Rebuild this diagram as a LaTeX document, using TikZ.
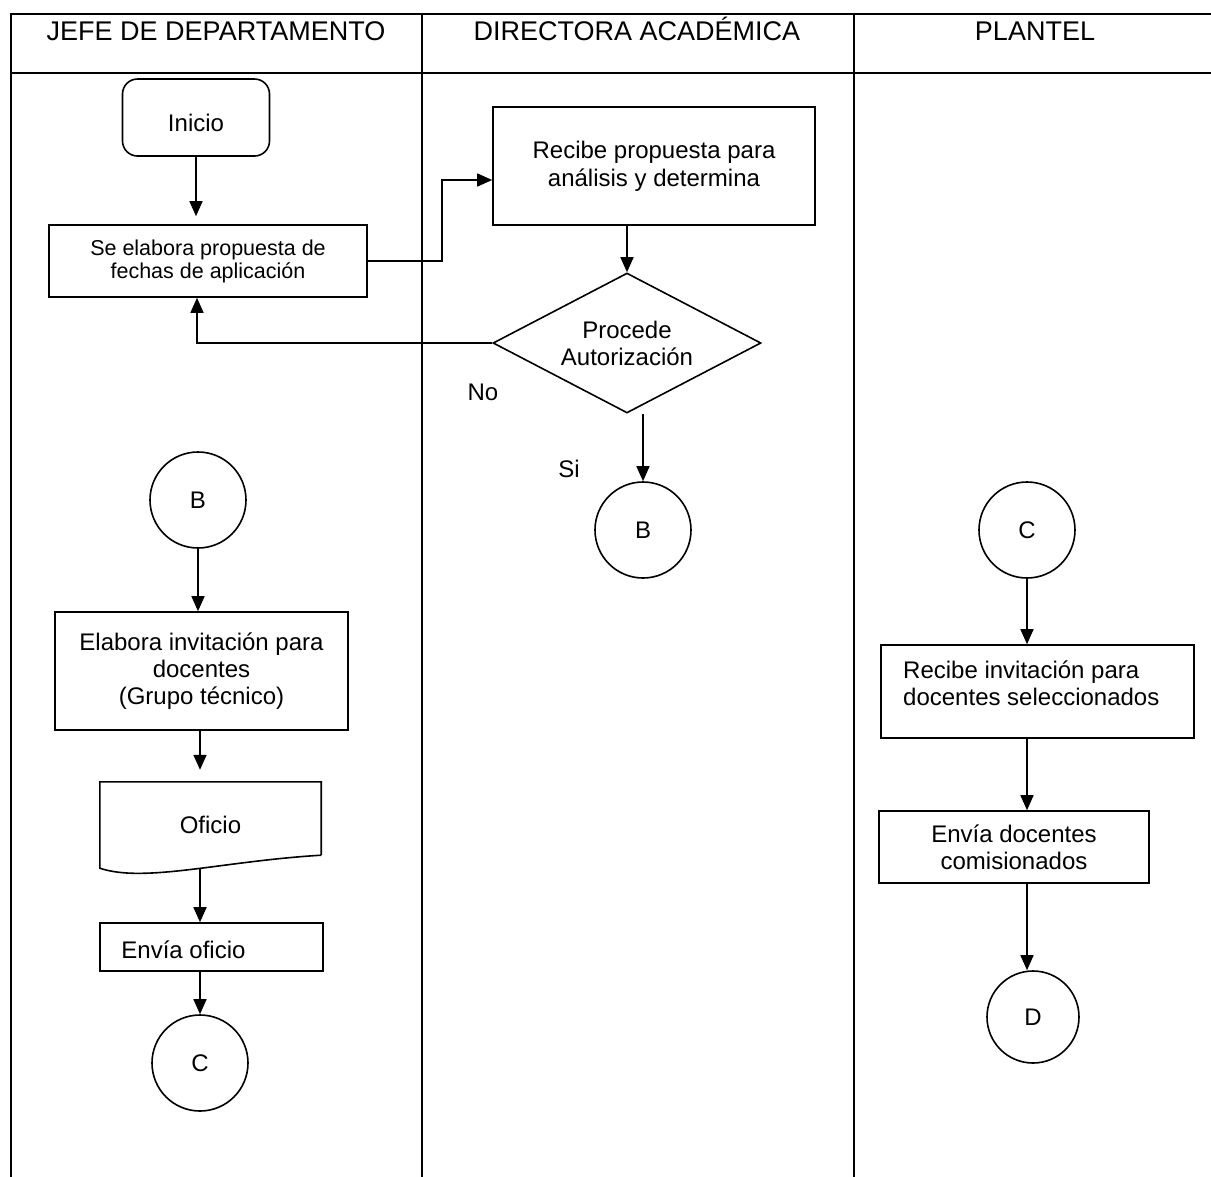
\documentclass[tikz,border=0pt]{standalone}
\usepackage{fontspec}
\setmainfont{Liberation Sans}
\usetikzlibrary{arrows.meta,shapes.geometric,calc}

\begin{document}
\begin{tikzpicture}[x=1bp,y=-1bp,
  line/.style={line width=1.6bp, draw=black},
  arr/.style={line, -{Triangle[length=15bp,width=13bp]}},
  body/.style={font=\fontsize{24bp}{27bp}\selectfont, align=center},
  box/.style={line, rectangle, inner sep=0pt, body},
  conn/.style={line, circle, inner sep=0pt, minimum size=96bp, body},
  head/.style={font=\fontsize{27bp}{30bp}\selectfont, inner sep=0pt, anchor=base},
  txt/.style={body, inner sep=0pt},
]
\useasboundingbox (0,0) rectangle (1211,1177);

% swimlane frame
\draw[line] (11,1177) -- (11,14) -- (1211,14);
\draw[line] (11,73) -- (1211,73);
\draw[line] (422,14) -- (422,1177);
\draw[line] (854,14) -- (854,1177);

\node[head] (h1) at (216,40) {JEFE DE DEPARTAMENTO};
\node[head] (h2) at (637,40) {DIRECTORA ACADÉMICA};
\node[head] (h3) at (1035,40) {PLANTEL};

% first lane
\node[box, rounded corners=15bp, minimum width=147bp, minimum height=77bp,
      text height=28bp, text depth=0pt] (ini) at (196,117.5) {Inicio};
\node[box, minimum width=318bp, minimum height=72bp,
      font=\fontsize{21.5bp}{23bp}\selectfont] (elab) at (208,261) {Se elabora propuesta de\\fechas de aplicación};
\node[conn] (bL) at (198,500) {B};
\node[box, minimum width=293bp, minimum height=118bp] (einv) at (201.5,671) {Elabora invitación para\\docentes\\(Grupo técnico)};
\node[txt, minimum width=221bp, minimum height=86bp] (ofi) at (210.5,825) {Oficio};
\draw[line] ($(ofi.south east)+(0,-13)$) -- (ofi.north east) -- (ofi.north west) -- (ofi.south west)
  .. controls +(45,15) and +(-100,6) .. ($(ofi.south east)+(0,-13)$);
\node[box, minimum width=223bp, minimum height=48bp] (envo) at (211.5,947) {};
\node[txt, anchor=base west] (envot) at ($(envo.west)+(22,11)$) {Envía oficio};
\node[conn] (cL) at (200,1063) {C};

% second lane
\node[box, minimum width=322bp, minimum height=118bp,
      font=\fontsize{24bp}{28bp}\selectfont] (rec) at (654,166) {Recibe propuesta para\\análisis y determina};
\node[line, diamond, shape aspect=1.9, minimum width=268bp, minimum height=140bp,
      inner sep=0pt, body] (dia) at (627,343) {Procede\\Autorización};
\node[conn] (bM) at (643,530) {B};
\node[txt, anchor=base] (no) at (483,400) {No};
\node[txt, anchor=base] (si) at (569,477) {Si};

% third lane
\node[conn] (cR) at (1027,530) {C};
\node[box, minimum width=313bp, minimum height=93bp] (rinv) at (1037.5,691.5) {};
\node[txt, anchor=north west, align=left] (rinvt) at (903,661) {Recibe invitación para\\docentes seleccionados};
\node[box, minimum width=270bp, minimum height=72bp] (envd) at (1014,847) {Envía docentes\\comisionados};
\node[conn, minimum size=92bp] (dR) at (1033,1017) {D};

% connectors
\draw[arr, shorten >=8bp] (ini.south) -- (ini.south |- elab.north);
\draw[arr] (elab.east) -- ++(74,0) |- ([yshift=-14bp]rec.west);
\draw[arr] (rec.south -| dia.north) -- (dia.north);
\draw[arr] (dia.west) -| ([xshift=-11bp]elab.south);
\draw[arr] (bM |- dia.south) -- (bM.north);
\draw[arr] (bL.south) -- (bL.south |- einv.north);
\draw[arr, shorten >=12bp] (cL |- einv.south) -- (cL |- ofi.north);
\draw[arr] (cL |- ofi.south) -- (cL |- envo.north);
\draw[arr] (cL |- envo.south) -- (cL.north);
\draw[arr] (cR.south) -- (cR.south |- rinv.north);
\draw[arr] (cR |- rinv.south) -- (cR |- envd.north);
\draw[arr] (cR |- envd.south) -- (cR |- dR.north);
\end{tikzpicture}
\end{document}
